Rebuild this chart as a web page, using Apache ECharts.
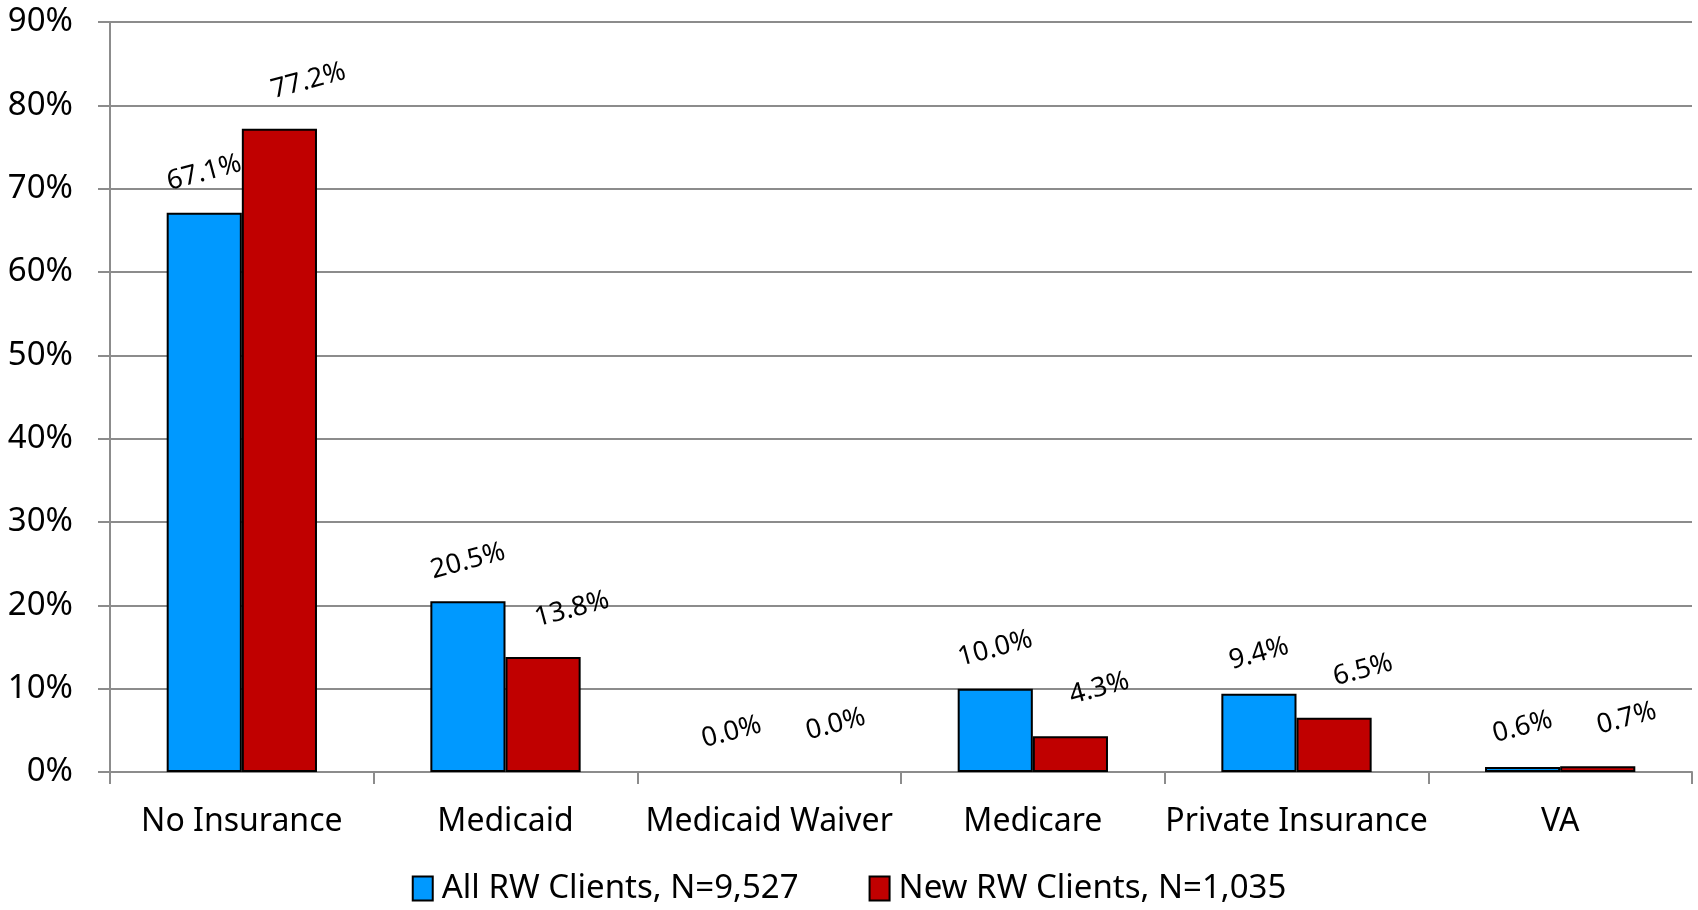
<!DOCTYPE html>
<html>
<head>
<meta charset="utf-8">
<script src="https://cdn.jsdelivr.net/npm/echarts@6/dist/echarts.min.js"></script>
<style>
  html, body { margin: 0; padding: 0; background: #fff; }
  #chart { width: 1698px; height: 910px; }
</style>
</head>
<body>
<div id="chart"></div>
<script>
// data
const categories = ["No Insurance", "Medicaid", "Medicaid Waiver", "Medicare", "Private Insurance", "VA"];
const allClients = [67.1, 20.5, 0.0, 10.0, 9.4, 0.6];
const newClients = [77.2, 13.8, 0.0, 4.3, 6.5, 0.7];
const seriesNames = ["All RW Clients, N=9,527", "New RW Clients, N=1,035"];
const seriesColors = ["#0099FF", "#C00000"];

const font = "Noto Sans";
const gridGray = "#8C8C8C";

function barLabel(dx) {
  return {
    show: true,
    position: "top",
    distance: 40,
    rotate: 15,
    align: "center",
    verticalAlign: "middle",
    offset: [dx, 0],
    color: "#000",
    fontFamily: font,
    fontSize: 27,
    formatter: p => p.value.toFixed(1) + "%"
  };
}

// zero bars have no visible outline in the original
function barData(values) {
  return values.map(v => v === 0 ? { value: v, itemStyle: { borderWidth: 0 } } : v);
}

const chart = echarts.init(document.getElementById("chart"));
chart.setOption({
  animation: false,
  backgroundColor: "#fff",
  grid: { left: 110, right: 6, top: 22, bottom: 138 },
  legend: {
    bottom: 0,
    left: "center",
    itemWidth: 20,
    itemHeight: 24,
    itemGap: 70,
    textStyle: { fontFamily: font, fontSize: 33, color: "#000", padding: [0, 0, 0, 4] },
    data: seriesNames.map((n, i) => ({
      name: n,
      icon: "rect",
      itemStyle: { color: seriesColors[i], borderColor: "#000", borderWidth: 2 }
    }))
  },
  xAxis: {
    type: "category",
    data: categories,
    axisLine: { lineStyle: { color: gridGray, width: 2 } },
    axisTick: { show: true, length: 12, lineStyle: { color: gridGray, width: 2 } },
    axisLabel: { color: "#000", fontFamily: font, fontSize: 32, margin: 34, interval: 0 }
  },
  yAxis: {
    type: "value",
    min: 0,
    max: 90,
    interval: 10,
    axisLine: { show: true, lineStyle: { color: gridGray, width: 2 } },
    axisTick: { show: true, length: 12, lineStyle: { color: gridGray, width: 2 } },
    splitLine: { lineStyle: { color: gridGray, width: 2 } },
    axisLabel: { color: "#000", fontFamily: font, fontSize: 33, margin: 37, formatter: "{value}%" }
  },
  series: [
    {
      name: seriesNames[0],
      type: "bar",
      data: barData(allClients),
      barGap: "0%",
      barCategoryGap: "43%",
      itemStyle: { color: seriesColors[0], borderColor: "#000", borderWidth: 2 },
      label: barLabel(0)
    },
    {
      name: seriesNames[1],
      type: "bar",
      data: barData(newClients),
      itemStyle: { color: seriesColors[1], borderColor: "#000", borderWidth: 2 },
      label: barLabel(30)
    }
  ]
});
</script>
</body>
</html>
